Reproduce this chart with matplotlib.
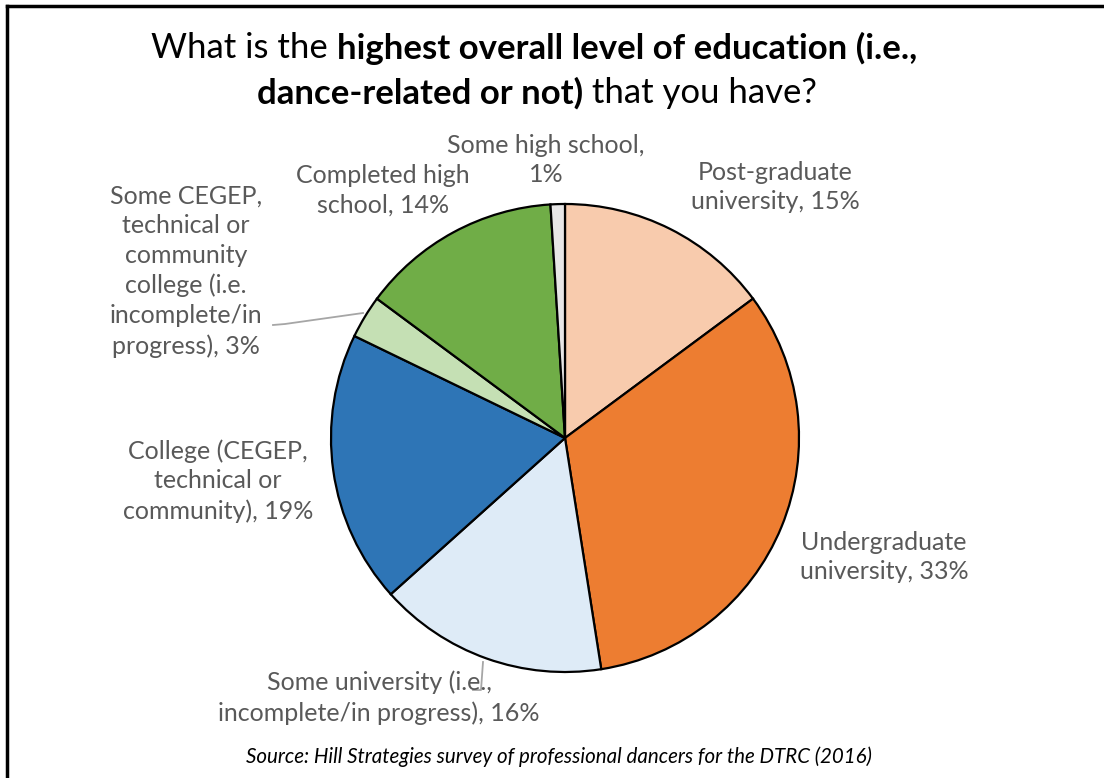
import matplotlib
matplotlib.use("Agg")
import matplotlib.pyplot as plt
from matplotlib.lines import Line2D

categories = ["Post-graduate\nuniversity", "Undergraduate\nuniversity",
              "Some university (i.e.,\nincomplete/in progress)",
              "College (CEGEP,\ntechnical or\ncommunity)",
              "Some CEGEP,\ntechnical or\ncommunity\ncollege (i.e.\nincomplete/in\nprogress)",
              "Completed high\nschool", "Some high school,\n"]
shares = [15, 33, 16, 19, 3, 14, 1]
colors = ["#F8CBAD", "#ED7D31", "#DEEBF7", "#2E75B6", "#C5E0B4", "#70AD47", "#E7E6E6"]

W, H = 1104, 778
fig = plt.figure(figsize=(W / 100, H / 100), dpi=100)
plt.rcParams["font.family"] = ["Lato", "DejaVu Sans"]

# pie placement in pixels
cx, cy, r = 565, 438, 234
ax = fig.add_axes([(cx - r) / W, (H - cy - r) / H, 2 * r / W, 2 * r / H])
ax.pie(shares, colors=colors, startangle=90, counterclock=False, radius=1,
       wedgeprops=dict(edgecolor="black", linewidth=1.6))
ax.set_xlim(-1, 1)
ax.set_ylim(-1, 1)
ax.set_aspect("equal")
ax.axis("off")


def px(x, y):
    return (x - cx) / r, (cy - y) / r


# label positions (pixel centres)
label_pos = [(775, 187), (884, 557), (379, 698), (218, 481), (186, 271), (383, 190), (546, 160)]
for cat, val, (lx, ly) in zip(categories, shares, label_pos):
    if cat.endswith("\n"):
        txt = cat + f"{val}%"
    else:
        txt = cat + f", {val}%"
    x, y = px(lx, ly)
    ax.text(x, y, txt, ha="center", va="center", fontsize=18, color="#595959",
            linespacing=1.36, clip_on=False)

# leader lines
for pts in ([(363, 313), (285, 324), (273, 325)], [(483, 662), (481, 690), (473, 690)]):
    xs, ys = zip(*[px(a, b) for a, b in pts])
    ax.plot(xs, ys, color="#A6A6A6", linewidth=1.3, clip_on=False)

# title with mixed weights
renderer = fig.canvas.get_renderer()


def draw_line(parts, xc, y, size=25):
    objs = []
    for s, w in parts:
        t = fig.text(0, 1 - y / H, s, fontsize=size, fontweight=w, va="center", ha="left")
        objs.append(t)
    widths = [t.get_window_extent(renderer).width for t in objs]
    x = xc - sum(widths) / 2
    for t, w in zip(objs, widths):
        t.set_x(x / W)
        x += w


draw_line([("What is the ", "normal"), ("highest overall level of education (i.e.,", "bold")], 534, 48)
draw_line([("dance-related or not)", "bold"), (" that you have?", "normal")], 537, 93)

fig.text(559 / W, 1 - 757 / H, "Source: Hill Strategies survey of professional dancers for the DTRC (2016)",
         ha="center", va="center", fontsize=14.8, style="italic", color="black")

# frame on left and top
fig.add_artist(Line2D([7 / W, 7 / W], [0, 1 - 6 / H], color="black", linewidth=2.5))
fig.add_artist(Line2D([7 / W, 1], [1 - 6 / H, 1 - 6 / H], color="black", linewidth=2.5))

fig.savefig("out.png", dpi=100, facecolor="white")
